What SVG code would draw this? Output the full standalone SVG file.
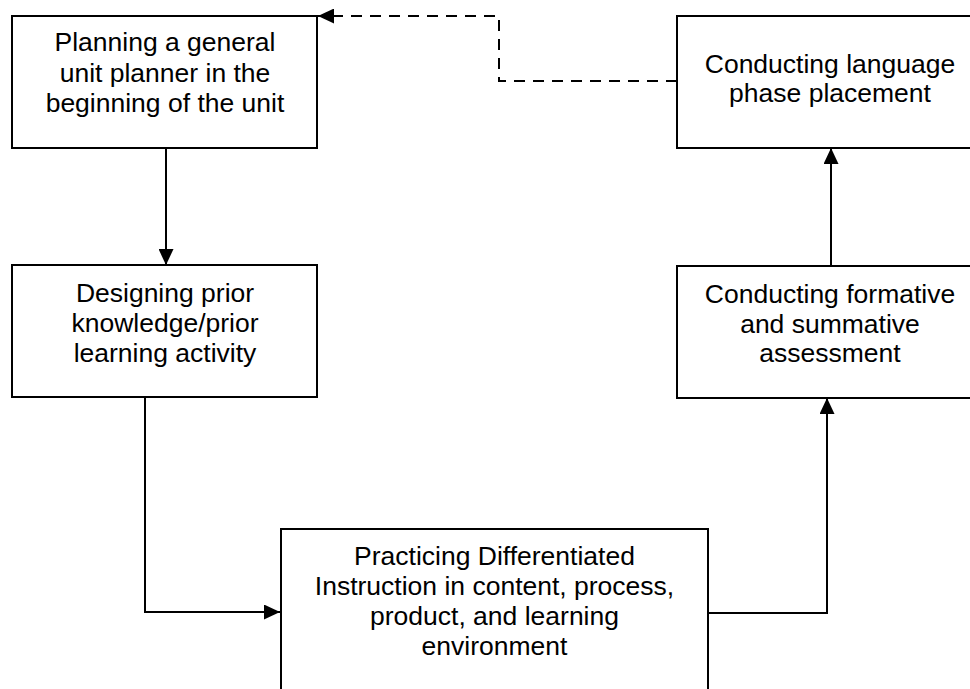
<svg xmlns="http://www.w3.org/2000/svg" width="970" height="689" viewBox="0 0 970 689">
<style>
.box{fill:#fff;stroke:#000;stroke-width:2}
.lbl{font-family:"Liberation Sans",Arial,sans-serif;font-size:26.5px;fill:#000;text-anchor:middle}
.conn{fill:none;stroke:#000;stroke-width:2}
.dash{stroke-dasharray:11 8}
</style>
<defs>
<marker id="ah" markerUnits="userSpaceOnUse" markerWidth="16" markerHeight="15" refX="16" refY="7.5" orient="auto">
<path d="M0,0 L16,7.5 L0,15 z" fill="#000"/>
</marker>
</defs>
<rect width="970" height="689" fill="#fff"/>
<g id="n1">
<rect class="box" x="12" y="16" width="305" height="132"/>
<text class="lbl"><tspan x="165" y="51">Planning a general</tspan><tspan x="165" y="81.5">unit planner in the</tspan><tspan x="165" y="112">beginning of the unit</tspan></text>
</g>
<g id="n2">
<rect class="box" x="12" y="265" width="305" height="132"/>
<text class="lbl"><tspan x="165" y="302">Designing prior</tspan><tspan x="165" y="332">knowledge/prior</tspan><tspan x="165" y="362">learning activity</tspan></text>
</g>
<g id="n3">
<rect class="box" x="281" y="529" width="427" height="200"/>
<text class="lbl"><tspan x="494.5" y="565">Practicing Differentiated</tspan><tspan x="494.5" y="595">Instruction in content, process,</tspan><tspan x="494.5" y="625">product, and learning</tspan><tspan x="494.5" y="655">environment</tspan></text>
</g>
<g id="n4">
<rect class="box" x="677" y="266" width="310" height="132"/>
<text class="lbl"><tspan x="830" y="303">Conducting formative</tspan><tspan x="830" y="333">and summative</tspan><tspan x="830" y="362">assessment</tspan></text>
</g>
<g id="n5">
<rect class="box" x="677" y="16" width="310" height="132"/>
<text class="lbl"><tspan x="830" y="73">Conducting language</tspan><tspan x="830" y="102">phase placement</tspan></text>
</g>
<g id="connectors">
<path class="conn" d="M166,148 L166,265" marker-end="url(#ah)"/>
<path class="conn" d="M145,397 L145,612 L280,612" marker-end="url(#ah)"/>
<path class="conn" d="M708,613 L827,613 L827,398" marker-end="url(#ah)"/>
<path class="conn" d="M831,266 L831,148" marker-end="url(#ah)"/>
<path class="conn dash" d="M677,81 L499,81 L499,16 L318,16" marker-end="url(#ah)"/>
</g>
</svg>
